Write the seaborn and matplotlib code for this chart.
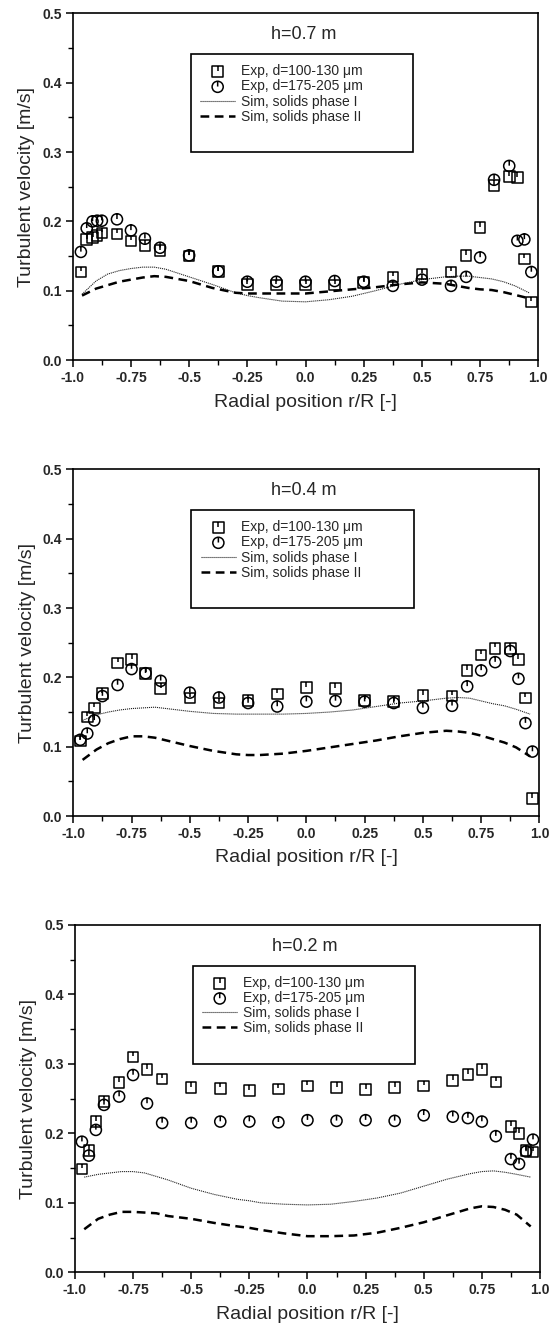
import numpy as np
import pandas as pd
import matplotlib
matplotlib.use("Agg")
import matplotlib.pyplot as plt
from matplotlib.path import Path
from matplotlib.patches import Rectangle
import seaborn as sns

sns.set_theme(style="ticks")
plt.rcParams['font.family'] = ['Liberation Sans', 'DejaVu Sans']

# ---------------- data ----------------
heights = ["h=0.7 m", "h=0.4 m", "h=0.2 m"]

exp_x_07 = [-0.965, -0.94, -0.915, -0.895, -0.875, -0.81, -0.75, -0.69, -0.625, -0.5, -0.375, -0.25,
            -0.125, 0.0, 0.125, 0.25, 0.375, 0.5, 0.625, 0.69, 0.75, 0.81, 0.875, 0.91, 0.94, 0.97]
exp_small_07 = [0.127, 0.174, 0.177, 0.180, 0.183, 0.182, 0.172, 0.165, 0.158, 0.150, 0.128, 0.109,
                0.108, 0.108, 0.108, 0.112, 0.120, 0.124, 0.127, 0.151, 0.191, 0.252, 0.265, 0.263, 0.146, 0.084]
exp_large_07 = [0.156, 0.190, 0.200, 0.201, 0.201, 0.203, 0.187, 0.175, 0.162, 0.151, 0.128, 0.113,
                0.113, 0.113, 0.114, 0.113, 0.107, 0.116, 0.107, 0.120, 0.148, 0.260, 0.280, 0.172, 0.174, 0.127]

exp_x = [-0.97, -0.94, -0.91, -0.875, -0.81, -0.75, -0.69, -0.625, -0.5, -0.375, -0.25, -0.125,
         0.0, 0.125, 0.25, 0.375, 0.5, 0.625, 0.69, 0.75, 0.81, 0.875, 0.91, 0.94, 0.97]
exp_small_04 = [0.108, 0.143, 0.156, 0.177, 0.221, 0.226, 0.206, 0.184, 0.170, 0.163, 0.167, 0.176,
                0.185, 0.184, 0.167, 0.165, 0.174, 0.173, 0.210, 0.232, 0.242, 0.242, 0.226, 0.170, 0.025]
exp_large_04 = [0.110, 0.119, 0.138, 0.173, 0.189, 0.212, 0.206, 0.195, 0.178, 0.171, 0.163, 0.158,
                0.165, 0.166, 0.165, 0.163, 0.156, 0.159, 0.187, 0.210, 0.222, 0.238, 0.198, 0.134, 0.093]
exp_small_02 = [0.149, 0.175, 0.217, 0.246, 0.273, 0.310, 0.292, 0.278, 0.266, 0.265, 0.262, 0.264,
                0.268, 0.266, 0.263, 0.266, 0.268, 0.276, 0.285, 0.292, 0.274, 0.210, 0.200, 0.175, 0.173]
exp_large_02 = [0.188, 0.168, 0.205, 0.241, 0.253, 0.284, 0.243, 0.215, 0.215, 0.217, 0.217, 0.216,
                0.219, 0.218, 0.219, 0.218, 0.226, 0.224, 0.222, 0.217, 0.196, 0.163, 0.156, 0.174, 0.191]

sim_x = [-0.96, -0.9, -0.85, -0.8, -0.75, -0.7, -0.65, -0.6, -0.5, -0.4, -0.3, -0.25, -0.2, -0.1,
         0.0, 0.1, 0.2, 0.3, 0.4, 0.5, 0.6, 0.65, 0.7, 0.75, 0.8, 0.85, 0.9, 0.96]
sim1_07 = [0.095, 0.114, 0.124, 0.129, 0.132, 0.134, 0.134, 0.131, 0.120, 0.109, 0.097, 0.093, 0.090, 0.085,
           0.084, 0.087, 0.092, 0.100, 0.109, 0.116, 0.120, 0.121, 0.121, 0.119, 0.117, 0.113, 0.107, 0.097]
sim2_07 = [0.093, 0.103, 0.108, 0.113, 0.116, 0.119, 0.121, 0.120, 0.114, 0.104, 0.097, 0.096, 0.096, 0.096,
           0.096, 0.099, 0.102, 0.105, 0.109, 0.112, 0.110, 0.107, 0.104, 0.102, 0.101, 0.098, 0.094, 0.089]
sim1_04 = [0.138, 0.146, 0.150, 0.153, 0.155, 0.156, 0.157, 0.155, 0.151, 0.148, 0.147, 0.147, 0.147, 0.147,
           0.148, 0.150, 0.153, 0.158, 0.163, 0.166, 0.170, 0.171, 0.170, 0.166, 0.162, 0.159, 0.154, 0.147]
sim2_04 = [0.081, 0.096, 0.105, 0.111, 0.115, 0.115, 0.113, 0.109, 0.101, 0.094, 0.089, 0.088, 0.088, 0.090,
           0.094, 0.099, 0.104, 0.109, 0.115, 0.120, 0.123, 0.122, 0.120, 0.116, 0.111, 0.106, 0.099, 0.086]
sim1_02 = [0.137, 0.141, 0.143, 0.145, 0.145, 0.143, 0.138, 0.133, 0.121, 0.112, 0.105, 0.103, 0.100, 0.098,
           0.097, 0.098, 0.102, 0.107, 0.114, 0.124, 0.134, 0.138, 0.142, 0.145, 0.146, 0.144, 0.141, 0.137]
sim2_02 = [0.062, 0.077, 0.083, 0.087, 0.087, 0.086, 0.085, 0.081, 0.077, 0.071, 0.066, 0.064, 0.061, 0.056,
           0.052, 0.052, 0.053, 0.057, 0.064, 0.072, 0.082, 0.087, 0.092, 0.095, 0.094, 0.090, 0.083, 0.066]

xticks = [-1.0, -0.75, -0.5, -0.25, 0.0, 0.25, 0.5, 0.75, 1.0]
xticklabels = ["-1.0", "-0.75", "-0.5", "-0.25", "0.0", "0.25", "0.5", "0.75", "1.0"]
yticks = [0.0, 0.1, 0.2, 0.3, 0.4, 0.5]
yticklabels = ["0.0", "0.1", "0.2", "0.3", "0.4", "0.5"]

labels = ["Exp, d=100-130 μm", "Exp, d=175-205 μm",
          "Sim, solids phase I", "Sim, solids phase II"]

panels = [
    (exp_x_07, exp_small_07, exp_large_07, sim1_07, sim2_07),
    (exp_x, exp_small_04, exp_large_04, sim1_04, sim2_04),
    (exp_x, exp_small_02, exp_large_02, sim1_02, sim2_02),
]

# ---------------- markers ----------------
sq_verts = [(-1, -1), (1, -1), (1, 1), (-1, 1), (-1, -1), (0, 1), (0, 0.15)]
sq_codes = [Path.MOVETO, Path.LINETO, Path.LINETO, Path.LINETO, Path.CLOSEPOLY, Path.MOVETO, Path.LINETO]
square_marker = Path(sq_verts, sq_codes)
circ = Path.unit_circle()
ci_verts = list(circ.vertices) + [(0, 1), (0, 0.05)]
ci_codes = list(circ.codes) + [Path.MOVETO, Path.LINETO]
circle_marker = Path(ci_verts, ci_codes)

# ---------------- figure ----------------
fig = plt.figure(figsize=(5.51, 13.38), dpi=100)
axes_rects = [
    [0.132, 0.7309, 0.845, 0.2591],
    [0.133, 0.3901, 0.846, 0.2591],
    [0.136, 0.0491, 0.844, 0.2596],
]

for i, (rect, title, data) in enumerate(zip(axes_rects, heights, panels)):
    ex, es, el, s1, s2 = data
    ax = fig.add_axes(rect)
    ax.set_facecolor("white")

    sns.scatterplot(x=ex, y=es, ax=ax, marker=square_marker, s=58, color="black",
                    facecolor="none", edgecolor="black", linewidth=1.1, zorder=3,
                    label=labels[0])
    sns.scatterplot(x=ex, y=el, ax=ax, marker=circle_marker, s=64, color="black",
                    facecolor="none", edgecolor="black", linewidth=1.1, zorder=3,
                    label=labels[1])
    sns.lineplot(x=sim_x, y=s1, ax=ax, color="#222222", linewidth=0.8,
                 linestyle=(0, (1, 0.8)), label=labels[2], zorder=2)
    sns.lineplot(x=sim_x, y=s2, ax=ax, color="black", linewidth=1.8,
                 linestyle=(0, (3.5, 2.2)), label=labels[3], zorder=2)

    ax.set_xlim(-1.0, 1.0)
    ax.set_ylim(0.0, 0.5)
    ax.set_xticks(xticks)
    ax.set_xticklabels(xticklabels, fontweight="bold", fontsize=10)
    ax.set_yticks(yticks)
    ax.set_yticklabels(yticklabels, fontweight="bold", fontsize=10)
    ax.set_xticks(np.arange(-1.0, 1.01, 0.125), minor=True)
    ax.set_yticks(np.arange(0.0, 0.51, 0.05), minor=True)
    ax.tick_params(axis="both", which="major", direction="out", length=5, width=1.1,
                   color="black", pad=3, top=False, right=False)
    ax.tick_params(axis="both", which="minor", direction="out", length=3.5, width=1.0,
                   color="black", top=False, right=False)
    for sp in ax.spines.values():
        sp.set_visible(True)
        sp.set_linewidth(1.2)
        sp.set_color("black")

    ax.set_xlabel("Radial position r/R [-]", fontsize=14, labelpad=6)
    ax.set_ylabel("Turbulent velocity [m/s]", fontsize=14, labelpad=5)

    ax.text(0.495, 0.938, title, transform=ax.transAxes, ha="center", va="center",
            fontsize=13)

    handles, _ = ax.get_legend_handles_labels()
    leg = ax.legend(handles=handles, labels=labels, loc="upper left",
                    bbox_to_anchor=(0.274, 0.853), frameon=False, fontsize=10,
                    labelspacing=0.08, handlelength=2.5, handletextpad=0.4,
                    borderpad=0, borderaxespad=0, scatterpoints=1)
    ax.add_patch(Rectangle((0.253, 0.599), 0.478, 0.284, transform=ax.transAxes,
                           fill=False, edgecolor="black", linewidth=1.2, zorder=4))

fig.savefig("out.png", dpi=100, facecolor="white")
